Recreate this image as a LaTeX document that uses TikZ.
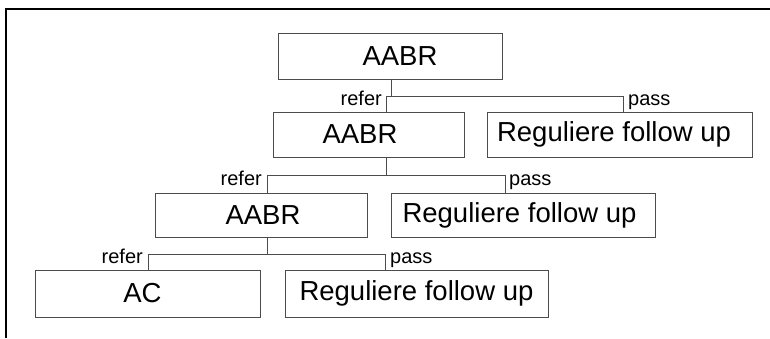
\documentclass[tikz,border=0pt]{standalone}
\usepackage{fontspec}
\setmainfont{Liberation Sans}
\begin{document}
\begin{tikzpicture}[x=1pt,y=-1pt,
  boxnode/.style={draw=black!70, line width=1pt, inner sep=0pt, minimum width=#1,
    font=\fontsize{27.5}{30}\selectfont, text=black},
  conn/.style={draw=black!70, line width=1pt},
  lbl/.style={inner sep=0pt, font=\fontsize{20}{22}\selectfont}]
\useasboundingbox (0,0) rectangle (770,338);
\draw[line width=2pt] (6,338) -- (6,9) -- (770,9);
% boxes
\node[boxnode=224pt, minimum height=46pt] (b1) at (390,56) {\hspace*{20pt}AABR};
\node[boxnode=191pt, minimum height=45pt] (b2) at (368.5,134.5) {AABR\hspace*{17pt}};
\node[boxnode=265pt, minimum height=45pt] (r2) at (619.5,134.5) {Reguliere follow up\hspace*{11pt}};
\node[boxnode=212pt, minimum height=44pt] (b3) at (261,215) {\hspace*{4pt}AABR};
\node[boxnode=264pt, minimum height=44pt] (r3) at (523,215) {Reguliere follow up\hspace*{7pt}};
\node[boxnode=225pt, minimum height=47pt] (ac) at (147.5,293.5) {AC\hspace*{10pt}};
\node[boxnode=263pt, minimum height=47pt] (r4) at (416.5,293.5) {\raisebox{6pt}{Reguliere follow up}};
% junction coordinates
\coordinate (h1L) at (386,96);
\coordinate (h1R) at (623,96);
\coordinate (h2L) at (267,175);
\coordinate (h2R) at (505,175);
\coordinate (h3L) at (148,254);
\coordinate (h3R) at (385,254);
% connectors
\draw[conn] (b1.south -| 391,0) -- (391,96);
\draw[conn] (h1L |- b2.north) -- (h1L) -- (h1R) -- (h1R |- r2.north);
\draw[conn] (h1L |- b2.south) -- (h1L |- h2L);
\draw[conn] (h2L |- b3.north) -- (h2L) -- (h2R) -- (h2R |- r3.north);
\draw[conn] (h2L |- b3.south) -- (h2L |- h3L);
\draw[conn] (h3L |- ac.north) -- (h3L) -- (h3R) -- (h3R |- r4.north);
% labels
\node[lbl, anchor=base east] (l1r) at (382,105) {refer};
\node[lbl, anchor=base west] (l1p) at (628,105) {pass};
\node[lbl, anchor=base east] (l2r) at (262,185) {refer};
\node[lbl, anchor=base west] (l2p) at (509,185) {pass};
\node[lbl, anchor=base east] (l3r) at (143,263) {refer};
\node[lbl, anchor=base west] (l3p) at (390,263) {pass};
\end{tikzpicture}
\end{document}
